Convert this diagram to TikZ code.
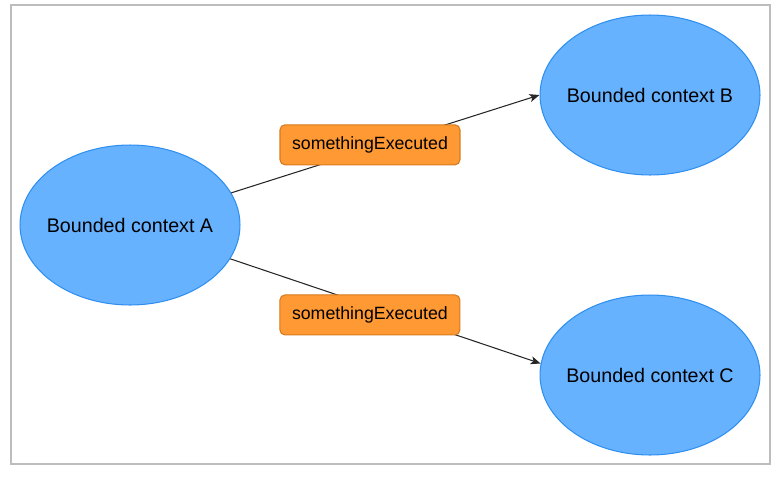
\documentclass[tikz,border=0pt]{standalone}
\usepackage{fontspec}
\setmainfont{Liberation Sans}
\usetikzlibrary{shapes.geometric,arrows.meta}
\definecolor{ctxfill}{HTML}{66B2FF}
\definecolor{ctxline}{HTML}{2F8FF0}
\definecolor{evtfill}{HTML}{FF9933}
\definecolor{evtline}{HTML}{D47A1E}
\definecolor{framegray}{HTML}{BDBDBD}
\begin{document}
\begin{tikzpicture}[x=0.02cm,y=-0.02cm]
		\tikzstyle{context}=[ellipse, fill=ctxfill, draw=ctxline, line width=0.6pt, inner sep=0pt, minimum width=4.4cm, minimum height=3.2cm, label={[font=\fontsize{11.2}{13}\selectfont]center:#1}]
		\tikzstyle{event}=[rectangle, rounded corners=0.1cm, fill=evtfill, draw=evtline, line width=0.6pt, minimum width=3.6cm, minimum height=0.8cm, font=\fontsize{10.1}{12}\selectfont]
		\tikzstyle{flow}=[draw=black!85, line width=0.6pt, -{Stealth[length=0.2cm, width=0.16cm, inset=0.05cm]}]
		\useasboundingbox (0,0) rectangle (780,477);
		\draw[framegray, line width=1pt] (11,5) rectangle (770,464);
		\node[context={Bounded context A}] (ctxA) at (130,225) {};
		\node[context={Bounded context B}] (ctxB) at (650,95) {};
		\node[context={Bounded context C}] (ctxC) at (650,375) {};
		\draw[flow]{
			(ctxA) -- node[event, pos=0.45, yshift=0.08cm] (evtB) {somethingExecuted} (ctxB.west)
		};
		\draw[flow]{
			(ctxA) -- node[event, pos=0.45, yshift=-0.18cm] (evtC) {somethingExecuted} (ctxC.174)
		};
	\end{tikzpicture}
\end{document}
